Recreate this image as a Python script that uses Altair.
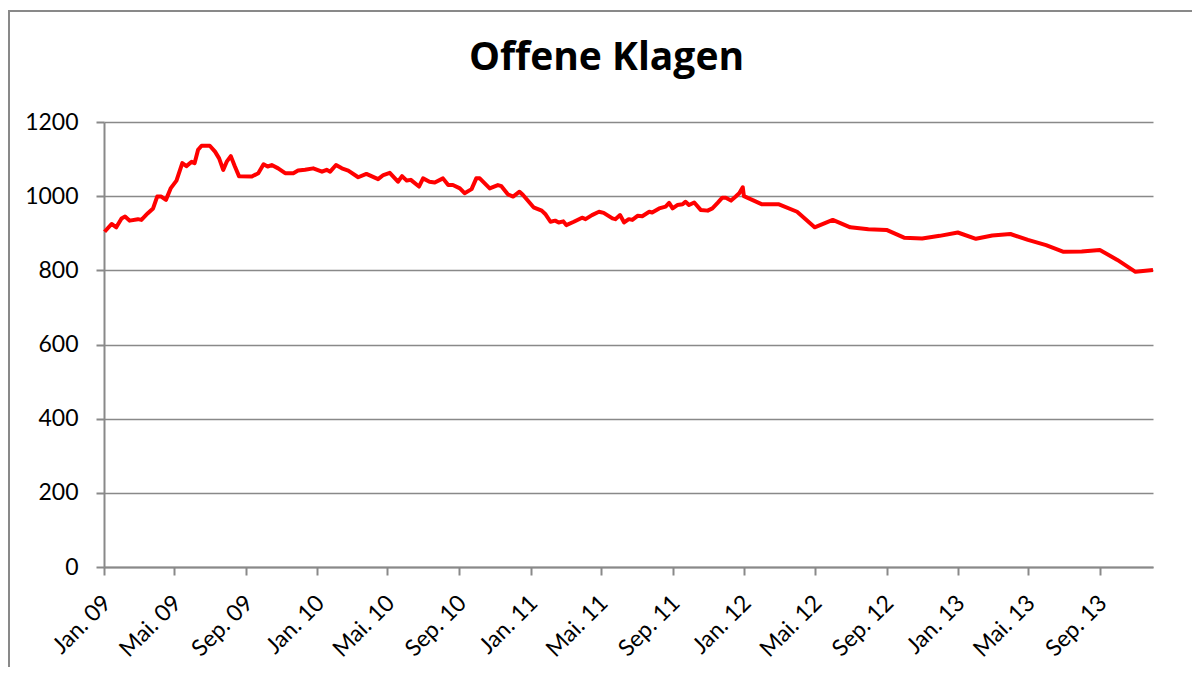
import altair as alt
import pandas as pd

TITLE = "Offene Klagen"

DATES = [
    "2009-01-02", "2009-01-14", "2009-01-22", "2009-01-31", "2009-02-06", "2009-02-14",
    "2009-02-28", "2009-03-06", "2009-03-17", "2009-03-26", "2009-04-02", "2009-04-09",
    "2009-04-17", "2009-04-25", "2009-05-05", "2009-05-15", "2009-05-22", "2009-05-31",
    "2009-06-05", "2009-06-11", "2009-06-17", "2009-07-01", "2009-07-10", "2009-07-17",
    "2009-07-24", "2009-07-30", "2009-08-06", "2009-08-13", "2009-08-20", "2009-09-11",
    "2009-09-22", "2009-10-01", "2009-10-08", "2009-10-15", "2009-10-26", "2009-11-07",
    "2009-11-21", "2009-11-29", "2009-12-11", "2009-12-25", "2010-01-09", "2010-01-17",
    "2010-01-23", "2010-02-02", "2010-02-12", "2010-02-23", "2010-03-12", "2010-03-26",
    "2010-04-15", "2010-04-24", "2010-05-05", "2010-05-19", "2010-05-26", "2010-06-03",
    "2010-06-10", "2010-06-24", "2010-07-01", "2010-07-12", "2010-07-21", "2010-08-04",
    "2010-08-13", "2010-08-21", "2010-09-02", "2010-09-10", "2010-09-22", "2010-09-30",
    "2010-10-06", "2010-10-23", "2010-11-06", "2010-11-12", "2010-11-23", "2010-12-02",
    "2010-12-13", "2010-12-19", "2011-01-06", "2011-01-20", "2011-01-26", "2011-02-04",
    "2011-02-12", "2011-02-18", "2011-02-26", "2011-03-03", "2011-03-16", "2011-03-30",
    "2011-04-05", "2011-04-16", "2011-04-28", "2011-05-06", "2011-05-21", "2011-05-26",
    "2011-06-03", "2011-06-10", "2011-06-18", "2011-06-24", "2011-07-03", "2011-07-11",
    "2011-07-23", "2011-07-28", "2011-08-09", "2011-08-20", "2011-08-26", "2011-09-01",
    "2011-09-09", "2011-09-18", "2011-09-23", "2011-09-29", "2011-10-08", "2011-10-19",
    "2011-10-31", "2011-11-08", "2011-11-17", "2011-11-25", "2011-12-01", "2011-12-10",
    "2011-12-18", "2011-12-24", "2011-12-30", "2012-01-01",
    "2012-02-01", "2012-03-01", "2012-04-01", "2012-05-01", "2012-06-01", "2012-07-01",
    "2012-08-01", "2012-09-01", "2012-10-01", "2012-11-01", "2012-12-01", "2013-01-01",
    "2013-02-01", "2013-03-01", "2013-04-01", "2013-05-01", "2013-06-01", "2013-07-01",
    "2013-08-01", "2013-09-01", "2013-10-01", "2013-11-01", "2013-12-01",
]

VALUES = [
    904, 925, 916, 940, 945, 934,
    938, 936, 954, 967, 999, 999,
    990, 1021, 1042, 1089, 1081, 1093,
    1089, 1125, 1136, 1136, 1120, 1102,
    1071, 1093, 1108, 1080, 1054, 1053,
    1062, 1086, 1080, 1084, 1075, 1062,
    1062, 1069, 1071, 1075, 1066, 1071,
    1066, 1084, 1075, 1069, 1051, 1060,
    1046, 1057, 1063, 1039, 1054, 1042,
    1044, 1026, 1048, 1039, 1037, 1048,
    1030, 1030, 1021, 1008, 1019, 1048,
    1048, 1021, 1030, 1027, 1005, 999,
    1012, 1003, 970, 961, 952, 931,
    934, 929, 932, 922, 931, 942,
    938, 949, 958, 955, 940, 938,
    949, 929, 938, 936, 947, 946,
    958, 956, 967, 972, 982, 967,
    976, 978, 985, 976, 983, 963,
    961, 967, 982, 996, 996, 988,
    999, 1008, 1024, 1000,
    978, 978, 958, 916, 936, 916,
    911, 909, 888, 886, 893, 902,
    885, 894, 898, 882, 868, 850,
    851, 855, 828, 796, 801,
]

X_DOMAIN = ["2009-01-01", "2013-12-01"]
X_TICKS = [
    "2009-01-01", "2009-05-01", "2009-09-01", "2010-01-01", "2010-05-01",
    "2010-09-01", "2011-01-01", "2011-05-01", "2011-09-01", "2012-01-01",
    "2012-05-01", "2012-09-01", "2013-01-01", "2013-05-01", "2013-09-01",
]
MONTH_NAMES = {"01": "Jan.", "05": "Mai.", "09": "Sep."}
Y_TICKS = [0, 200, 400, 600, 800, 1000, 1200]

FONT = "Lato"
TITLE_FONT = "Open Sans"
GRAY = "#898989"


def dt(s):
    y, m, d = (int(p) for p in s.split("-"))
    return alt.DateTime(year=y, month=m, date=d, utc=True)


df = pd.DataFrame({"date": DATES, "value": VALUES})

month_expr = " : ".join(
    f"utcFormat(datum.value, '%m') == '{k}' ? '{v}'" for k, v in MONTH_NAMES.items()
) + " : ''"
label_expr = f"({month_expr}) + ' ' + utcFormat(datum.value, '%y')"

line = alt.Chart(df).mark_line(color="#FF0000", strokeWidth=4, strokeJoin="round").encode(
    x=alt.X(
        "date:T",
        scale=alt.Scale(type="utc", domain=[dt(s) for s in X_DOMAIN]),
        axis=alt.Axis(
            values=[dt(s) for s in X_TICKS],
            labelExpr=label_expr,
            labelAngle=-45,
            labelAlign="right",
            labelBaseline="middle",
            labelPadding=24,
            labelOffset=3,
            labelFontSize=23,
            labelFont=FONT,
            labelColor="black",
            labelOverlap=False,
            tickSize=8,
            tickColor=GRAY,
            tickWidth=2,
            domainColor=GRAY,
            domainWidth=2,
            grid=False,
            title=None,
        ),
    ),
    y=alt.Y(
        "value:Q",
        scale=alt.Scale(domain=[0, 1200], nice=False, zero=True),
        axis=alt.Axis(
            values=Y_TICKS,
            format="d",
            labelFontSize=23,
            labelFont=FONT,
            labelColor="black",
            labelPadding=18,
            tickSize=8,
            tickColor=GRAY,
            tickWidth=2,
            domainColor=GRAY,
            domainWidth=2,
            gridColor=GRAY,
            gridWidth=1.6,
            title=None,
        ),
    ),
)

frame = alt.Chart(pd.DataFrame({"k": [0]})).mark_rect(
    filled=False, stroke=GRAY, strokeWidth=2
).encode(
    x=alt.value(-95), x2=alt.value(1200), y=alt.value(-111), y2=alt.value(600)
)

chart = alt.layer(frame, line).properties(
    width=1049,
    height=445,
    autosize="none",
    padding={"left": 96, "top": 114, "right": 39, "bottom": 100},
    title=alt.TitleParams(
        TITLE,
        font=TITLE_FONT,
        fontSize=39,
        fontWeight="bold",
        color="black",
        anchor="middle",
        frame="group",
        baseline="alphabetic",
        offset=-99,
        dx=-22,
    ),
).configure_view(stroke=None)

chart.save("out.html", embed_options={"renderer": "svg", "actions": False})
